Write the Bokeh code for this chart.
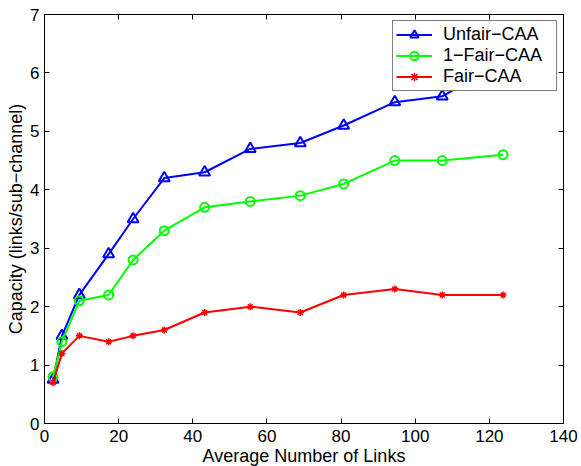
from bokeh.plotting import figure
from bokeh.models import Range1d, FixedTicker, LinearAxis, Legend
from bokeh.embed import file_html
from bokeh.resources import INLINE

links = [2.3, 4.7, 9.4, 17.3, 23.9, 32.3, 43.2, 55.5, 69.0, 80.7, 94.5, 107.3, 123.7]
unfair_caa = [0.75, 1.5, 2.2, 2.9, 3.5, 4.2, 4.3, 4.7, 4.8, 5.1, 5.5, 5.6, 6.2]
one_fair_caa = [0.8, 1.4, 2.1, 2.2, 2.8, 3.3, 3.7, 3.8, 3.9, 4.1, 4.5, 4.5, 4.6]
fair_caa = [0.7, 1.2, 1.5, 1.4, 1.5, 1.6, 1.9, 2.0, 1.9, 2.2, 2.3, 2.2, 2.2]
x_ticks = [0, 20, 40, 60, 80, 100, 120, 140]
y_ticks = [0, 1, 2, 3, 4, 5, 6, 7]

FONT = "Liberation Sans"

p = figure(output_backend="svg", toolbar_location=None,
           frame_width=519, frame_height=409,
           x_range=Range1d(0, 140), y_range=Range1d(0, 7),
           min_border_left=44, min_border_right=18, min_border_top=14, min_border_bottom=47)
p.xgrid.visible = False
p.ygrid.visible = False
p.outline_line_color = "black"
p.outline_line_width = 1
p.background_fill_color = "white"
p.border_fill_color = "white"

def style_axis(ax, ticks, show_labels=True):
    ax.ticker = FixedTicker(ticks=ticks)
    ax.minor_tick_line_color = None
    ax.major_tick_in = 5
    ax.major_tick_out = 0
    ax.axis_line_color = "black"
    ax.major_tick_line_color = "black"
    ax.major_label_text_font = FONT
    if show_labels:
        ax.major_label_text_color = "black"
        ax.major_label_text_font_size = "17px"
        ax.major_label_standoff = 5
    else:
        ax.major_label_text_color = None
        ax.major_label_text_font_size = "1px"
        ax.major_label_standoff = 0
    ax.axis_label_text_font = FONT
    ax.axis_label_text_font_style = "normal"
    ax.axis_label_text_font_size = "18px"
    ax.axis_label_text_color = "black"

style_axis(p.xaxis[0], x_ticks)
style_axis(p.yaxis[0], y_ticks)
p.xaxis[0].major_label_standoff = 6
p.xaxis[0].axis_label = "Average Number of Links"
p.xaxis[0].axis_label_standoff = 1
p.yaxis[0].axis_label = "Capacity (links/sub\u2212channel)"
p.yaxis[0].axis_label_standoff = 1

top_ax = LinearAxis()
style_axis(top_ax, x_ticks, show_labels=False)
p.add_layout(top_ax, "above")
right_ax = LinearAxis()
style_axis(right_ax, y_ticks, show_labels=False)
p.add_layout(right_ax, "right")

r1l = p.line(links, unfair_caa, line_color="#0000ff", line_width=2)
r1m = p.scatter(links, unfair_caa, marker="triangle", size=11, line_color="#0000ff",
                fill_color=None, line_width=2)
r2l = p.line(links, one_fair_caa, line_color="#00ff00", line_width=2)
r2m = p.scatter(links, one_fair_caa, marker="circle", size=9, line_color="#00ff00",
                fill_color=None, line_width=2)
r3l = p.line(links, fair_caa, line_color="#ff0000", line_width=2)
r3m = p.scatter(links, fair_caa, marker="asterisk", size=7, line_color="#ff0000",
                line_width=1.5)

legend = Legend(items=[("Unfair\u2212CAA", [r1l, r1m]),
                       ("1\u2212Fair\u2212CAA", [r2l, r2m]),
                       ("Fair\u2212CAA", [r3l, r3m])],
                location="top_right")
legend.label_text_font = FONT
legend.label_text_font_size = "18px"
legend.label_text_color = "black"
legend.border_line_color = "black"
legend.border_line_width = 1
legend.background_fill_color = "white"
legend.background_fill_alpha = 1
legend.margin = 6
legend.padding = 3
legend.spacing = 0
legend.glyph_width = 36
legend.glyph_height = 21
legend.label_height = 21
legend.label_width = 110
legend.label_standoff = 11
p.add_layout(legend, "center")

open("out.html", "w").write(file_html(p, INLINE))
